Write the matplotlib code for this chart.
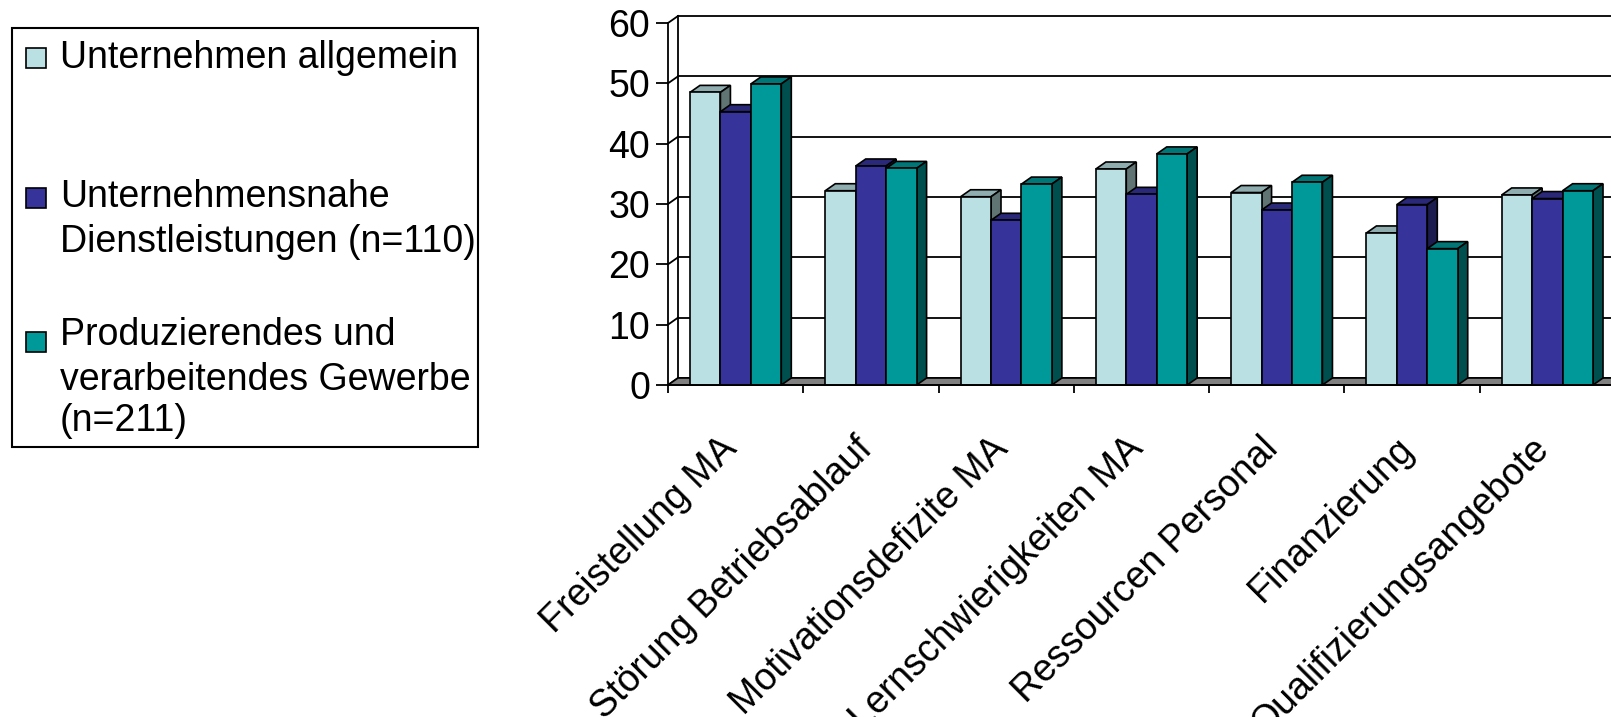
import matplotlib
matplotlib.use('Agg')
from matplotlib import pyplot as plt
from matplotlib.patches import Polygon, Rectangle
from matplotlib.transforms import ScaledTranslation

plt.rcParams['font.family'] = ['Liberation Sans', 'DejaVu Sans']

categories = ['Freistellung MA', 'Störung Betriebsablauf', 'Motivationsdefizite MA',
              'Lernschwierigkeiten MA', 'Ressourcen Personal', 'Finanzierung',
              'Qualifizierungsangebote']
series_names = ['Unternehmen allgemein',
                'Unternehmensnahe\nDienstleistungen (n=110)',
                'Produzierendes und\nverarbeitendes Gewerbe\n(n=211)']
allgemein = [48.5, 32.2, 31.2, 35.8, 31.9, 25.2, 31.5]
dienstleistung = [45.3, 36.3, 27.3, 31.6, 29.0, 29.9, 30.9]
gewerbe = [49.9, 35.9, 33.3, 38.3, 33.6, 22.6, 32.2]
yticks = [0, 10, 20, 30, 40, 50, 60]

values = [allgemein, dienstleistung, gewerbe]
front_cols = ['#BBE0E3', '#36349A', '#009999']
top_cols = ['#8FACAE', '#2A2878', '#007676']
side_cols = ['#617474', '#1D1C50', '#004F4F']

W, H = 1611, 717
FS = 27
fig = plt.figure(figsize=(W / 100, H / 100), dpi=100)

# main plot area: front axis at x=668px, floor at y=385px, 60 at y=23px
ax = fig.add_axes([668 / W, (H - 385) / H, 947 / W, 362 / H])
ax.set_xlim(0, 7)
ax.set_ylim(0, 60)

# depth offset of the pseudo 3d look (px -> data units)
ddx = 10 / 135.3
ddy = 7 / 6.03
n = len(categories)

# back wall with gridlines
ax.add_patch(Rectangle((ddx, ddy), n, 60, facecolor='white', edgecolor='none', zorder=0, clip_on=False))
for v in yticks:
    ax.plot([ddx, n + ddx], [v + ddy, v + ddy], color='black', lw=1.3, zorder=1, clip_on=False)
    ax.plot([0, ddx], [v, v + ddy], color='black', lw=1.3, zorder=1, clip_on=False)
ax.plot([ddx, ddx], [ddy, 60 + ddy], color='black', lw=1.3, zorder=1, clip_on=False)

# floor
ax.add_patch(Polygon([(0, 0), (n, 0), (n + ddx, ddy), (ddx, ddy)], closed=True,
                     facecolor='#808080', edgecolor='black', lw=1.2, zorder=2, clip_on=False))

# bars
bw = 0.225
for i in range(n):
    for s in range(3):
        x0 = i + 0.5 + (s - 1.5) * bw
        x1 = x0 + bw
        h = values[s][i]
        top = Polygon([(x0, h), (x1, h), (x1 + ddx, h + ddy), (x0 + ddx, h + ddy)], closed=True,
                      facecolor=top_cols[s], edgecolor='black', lw=1.2, zorder=3, clip_on=False)
        side = Polygon([(x1, 0), (x1 + ddx, ddy), (x1 + ddx, h + ddy), (x1, h)], closed=True,
                       facecolor=side_cols[s], edgecolor='black', lw=1.2, zorder=3, clip_on=False)
        ax.add_patch(top)
        ax.add_patch(side)
        ax.bar(x0, h, width=bw, align='edge', color=front_cols[s], edgecolor='black',
               linewidth=1.2, zorder=3, clip_on=False)

# axes, ticks and labels
for sp in ['top', 'right']:
    ax.spines[sp].set_visible(False)
ax.spines['left'].set_linewidth(1.3)
ax.spines['bottom'].set_linewidth(1.3)
ax.spines['left'].set_zorder(4)
ax.spines['bottom'].set_zorder(4)
ax.set_yticks(yticks)
ax.tick_params(axis='y', direction='out', length=8.6, width=1.3, pad=4.3, labelsize=FS)
ax.set_xticks([i + 0.5 for i in range(n)])
ax.set_xticks(range(n + 1), minor=True)
ax.tick_params(axis='x', which='major', length=0, pad=42, labelsize=FS)
ax.tick_params(axis='x', which='minor', direction='out', length=6, width=1.3)
ax.set_xticklabels(categories, rotation=45, ha='right', va='center', rotation_mode='anchor')
shift = ScaledTranslation(-4 / 100, 0, fig.dpi_scale_trans)
for lab in ax.get_xticklabels():
    lab.set_transform(lab.get_transform() + shift)

# legend drawn in pixel coordinates
lax = fig.add_axes([0, 0, 1, 1], zorder=-1)
lax.set_xlim(0, W)
lax.set_ylim(H, 0)
lax.axis('off')
lax.add_patch(Rectangle((12, 28), 466, 419, facecolor='white', edgecolor='black', lw=1.5))
patch_y = [58, 198, 342]
line_y = [[58], [197, 242], [335, 380, 421]]
for s in range(3):
    lax.add_patch(Rectangle((26, patch_y[s] - 10), 20, 20, facecolor=front_cols[s],
                            edgecolor='black', lw=1.2))
    for line, y in zip(series_names[s].split('\n'), line_y[s]):
        lax.text(60, y, line, fontsize=FS, va='center', ha='left')

fig.savefig('out.png', dpi=100)
